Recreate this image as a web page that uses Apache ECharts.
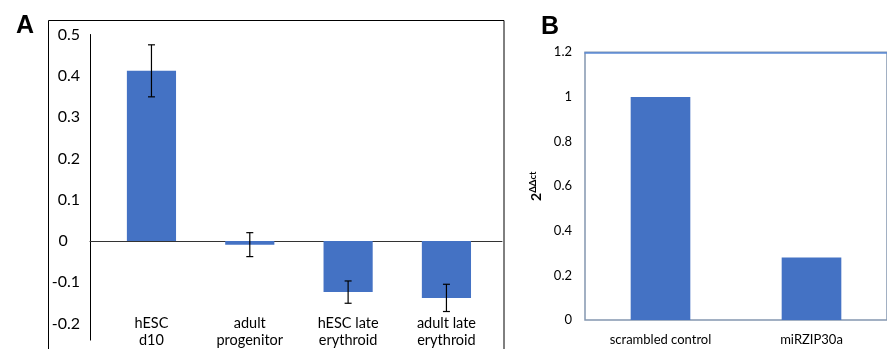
<!DOCTYPE html>
<html><head><meta charset="utf-8">
<script src="https://cdn.jsdelivr.net/npm/echarts@6/dist/echarts.min.js"></script>
<style>html,body{margin:0;padding:0;background:#fff}#c{width:887px;height:349px}</style>
</head><body><div id="c"></div>
<script>
const catsA = ['hESC\nd10', 'adult\nprogenitor', 'hESC late\nerythroid', 'adult late\nerythroid'];
const valsA = [0.412, -0.009, -0.124, -0.138];
const errA = [0.063, 0.029, 0.027, 0.033];
const ticksA = [-0.2, -0.1, 0, 0.1, 0.2, 0.3, 0.4, 0.5];
const catsB = ['scrambled control', 'miRZIP30a'];
const valsB = [1.0, 0.28];

const FONT = 'Lato';
const BLUE = '#4472C4';
const chart = echarts.init(document.getElementById('c'), null, {renderer: 'canvas'});

const errData = valsA.map((v, i) => [i, v - errA[i], v + errA[i]]);

chart.setOption({
  animation: false,
  backgroundColor: '#fff',
  title: [
    {text: 'A', left: 11, top: 9, textStyle: {fontFamily: 'Liberation Sans', fontWeight: 'bold', fontSize: 25, color: '#000'}},
    {text: 'B', left: 536, top: 10, textStyle: {fontFamily: 'Liberation Sans', fontWeight: 'bold', fontSize: 25, color: '#000'}}
  ],
  graphic: [
    {type: 'rect', shape: {x: 48.5, y: 20.5, width: 455.5, height: 400}, style: {fill: 'none', stroke: '#000', lineWidth: 1}, z: 0}
  ],
  grid: [
    {left: 102.3, right: 391.4, top: 34.5, bottom: 8.9},
    {left: 90, right: 385, top: 34.5, bottom: 8.9},
    {left: 585, right: -12, top: 52.3, bottom: 29, show: true, borderColor: '#8497B0', borderWidth: 1.5}
  ],
  xAxis: [
    {gridIndex: 0, type: 'category', data: catsA, axisLine: {show: false, onZero: false}, axisTick: {show: false},
     axisLabel: {margin: -25, fontFamily: FONT, fontSize: 14.5, lineHeight: 17, color: '#000', interval: 0}},
    {gridIndex: 1, type: 'value', min: 0, max: 1, axisLine: {onZero: true, lineStyle: {color: '#333', width: 1}},
     axisTick: {show: false}, axisLabel: {show: false}, splitLine: {show: false}},
    {gridIndex: 2, type: 'category', data: catsB, axisLine: {show: false}, axisTick: {show: false},
     axisLabel: {margin: 13, fontFamily: FONT, fontSize: 13, color: '#000'}},
    {gridIndex: 2, type: 'category', data: catsB, position: 'top', axisLine: {show: true, lineStyle: {color: '#5B8BD6', width: 1.5}},
     axisTick: {show: false}, axisLabel: {show: false}}
  ],
  yAxis: [
    {gridIndex: 0, type: 'value', min: -0.24, max: 0.5, show: false},
    {gridIndex: 1, type: 'value', min: -0.24, max: 0.5,
     axisLine: {show: true, lineStyle: {color: '#000', width: 1}}, axisTick: {show: false}, splitLine: {show: false},
     axisLabel: {customValues: ticksA, margin: 10, fontFamily: FONT, fontSize: 16, color: '#000',
                 formatter: v => (Math.abs(v) < 1e-9 ? '0   ' : String(Math.round(v * 10) / 10))}},
    {gridIndex: 2, type: 'value', min: 0, max: 1.2, interval: 0.2,
     axisLine: {show: false}, axisTick: {show: false}, splitLine: {show: false},
     axisLabel: {margin: 13, fontFamily: FONT, fontSize: 13, color: '#000',
                 formatter: v => String(Math.round(v * 10) / 10)},
     name: '{b|2}{s|ΔΔct}', nameLocation: 'middle', nameGap: 40, nameRotate: 90,
     nameTextStyle: {rich: {b: {fontFamily: FONT, fontWeight: 'bold', fontSize: 14, color: '#000'},
                            s: {fontFamily: FONT, fontWeight: 'bold', fontSize: 9.5, color: '#000', padding: [0, 0, 7, 0]}}}}
  ],
  series: [
    {type: 'bar', xAxisIndex: 0, yAxisIndex: 0, data: valsA, barWidth: '50%', itemStyle: {color: BLUE}},
    {type: 'custom', xAxisIndex: 0, yAxisIndex: 0, data: errData, z: 5,
     renderItem: (params, api) => {
       const x = api.value(0);
       const lo = api.coord([x, api.value(1)]);
       const hi = api.coord([x, api.value(2)]);
       const w = 3.5;
       const st = {stroke: '#000', lineWidth: 1.2};
       return {type: 'group', children: [
         {type: 'line', shape: {x1: hi[0], y1: hi[1], x2: lo[0], y2: lo[1]}, style: st},
         {type: 'line', shape: {x1: hi[0] - w, y1: hi[1], x2: hi[0] + w, y2: hi[1]}, style: st},
         {type: 'line', shape: {x1: lo[0] - w, y1: lo[1], x2: lo[0] + w, y2: lo[1]}, style: st}
       ]};
     }},
    {type: 'bar', xAxisIndex: 2, yAxisIndex: 2, data: valsB, barWidth: '39.5%', itemStyle: {color: BLUE}}
  ]
});
</script></body></html>
